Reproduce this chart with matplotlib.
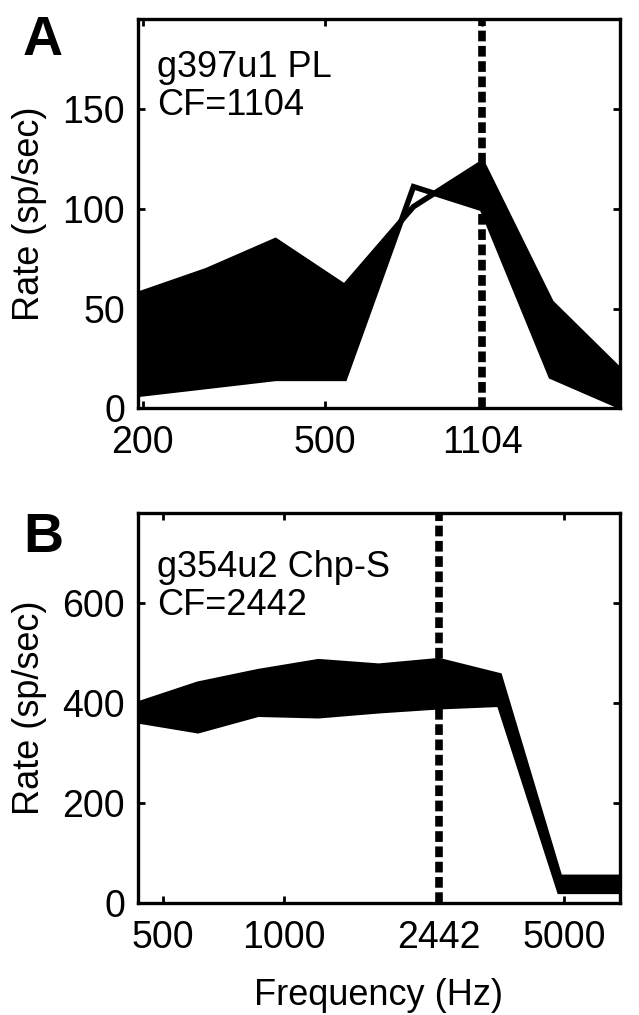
import numpy as np
import matplotlib.pyplot as plt
from matplotlib.ticker import NullLocator

plt.rcParams['font.family'] = ['Liberation Sans', 'DejaVu Sans']

# Panel A: g397u1 PL, CF = 1104 Hz
cf_a = 1104
freq_a = [195, 276, 390, 552, 781, 1104, 1561, 2208]
rate_a1 = [57, 69, 84, 61, 101, 123, 53, 19]
rate_a2 = [7, 11, 15, 15, 111, 100, 16, 1]
xticks_a = [200, 500, 1104]
yticks_a = [0, 50, 100, 150]

# Panel B: g354u2 Chp-S, CF = 2442 Hz
cf_b = 2442
freq_b = [432, 611, 863, 1221, 1727, 2442, 3453, 4884, 6907]
rate_b1 = [398, 438, 463, 483, 474, 485, 455, 52, 52]
rate_b2 = [365, 345, 378, 375, 385, 393, 398, 24, 24]
xticks_b = [500, 1000, 2442, 5000]
yticks_b = [0, 200, 400, 600]


def draw_band(ax, f, r1, r2):
    f = np.asarray(f, float)
    # dichter Raster in log-Frequenz, damit die Fuellung zu den Linien passt
    fg = np.geomspace(f[0], f[-1], 800)
    g1 = np.interp(np.log(fg), np.log(f), r1)
    g2 = np.interp(np.log(fg), np.log(f), r2)
    ax.fill_between(fg, g1, g2, where=g1 >= g2, interpolate=True,
                    color='k', lw=0)
    ax.plot(f, r1, color='k', lw=4, solid_joinstyle='miter')
    ax.plot(f, r2, color='k', lw=4, solid_joinstyle='miter')


def style_axes(ax, xlim, ylim, xticks, yticks):
    ax.set_xscale('log')
    ax.set_xlim(*xlim)
    ax.set_ylim(*ylim)
    ax.set_xticks(xticks)
    ax.set_xticklabels([str(t) for t in xticks])
    ax.set_yticks(yticks)
    ax.xaxis.set_minor_locator(NullLocator())
    ax.tick_params(direction='in', length=5, width=2, top=True, right=True,
                   labelsize=27)
    ax.tick_params(axis='x', pad=12)
    ax.tick_params(axis='y', pad=9)
    for s in ax.spines.values():
        s.set_linewidth(2.4)
    ax.set_ylabel('Rate (sp/sec)', fontsize=26)
    ax.yaxis.set_label_coords(-0.188, 0.5)


fig = plt.figure(figsize=(6.39, 10.15), dpi=100)
ax_a = fig.add_axes([0.2155, 0.5977, 0.7548, 0.3836])
ax_b = fig.add_axes([0.2155, 0.1100, 0.7548, 0.3845])

draw_band(ax_a, freq_a, rate_a1, rate_a2)
ax_a.axvline(cf_a, color='k', lw=5.5, dashes=(1.4, 0.6))
style_axes(ax_a, (freq_a[0], freq_a[-1]), (0, 195), xticks_a, yticks_a)
ax_a.text(0.04, 0.92, 'g397u1 PL\nCF=1104', transform=ax_a.transAxes,
          fontsize=26, va='top', ha='left', linespacing=1.1)

draw_band(ax_b, freq_b, rate_b1, rate_b2)
ax_b.axvline(cf_b, color='k', lw=5.5, dashes=(1.4, 0.6))
style_axes(ax_b, (freq_b[0], freq_b[-1]), (0, 780), xticks_b, yticks_b)
ax_b.text(0.04, 0.905, 'g354u2 Chp-S\nCF=2442', transform=ax_b.transAxes,
          fontsize=26, va='top', ha='left', linespacing=1.1)
ax_b.set_xlabel('Frequency (Hz)', fontsize=26)
ax_b.xaxis.set_label_coords(0.5, -0.19)

fig.text(0.036, 0.985, 'A', fontsize=40, fontweight='bold', va='top', ha='left')
fig.text(0.036, 0.496, 'B', fontsize=40, fontweight='bold', va='top', ha='left')

fig.savefig('out.png', dpi=100)
